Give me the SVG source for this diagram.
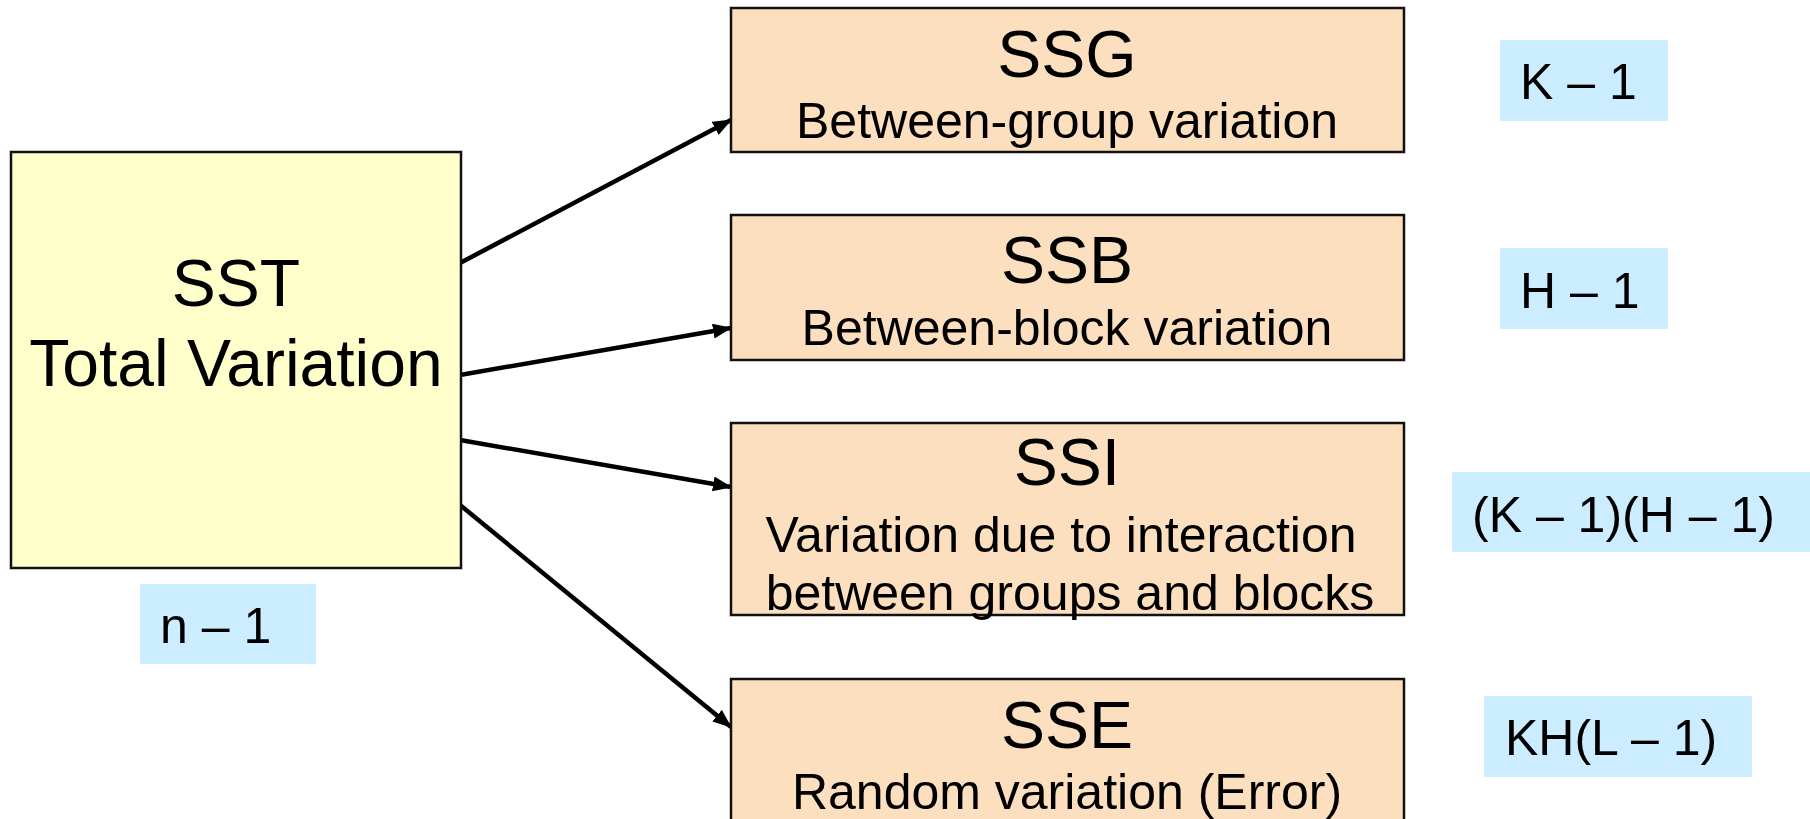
<svg xmlns="http://www.w3.org/2000/svg" width="1810" height="819" viewBox="0 0 1810 819">
<style>
.t{font-family:"Liberation Sans",Arial,sans-serif;fill:#000;}
.title{font-size:66px;text-anchor:middle;}
.sub{font-size:50px;text-anchor:middle;}
.df{font-size:50px;}
.sst{fill:#FFFFCC;stroke:#111;stroke-width:2.5;}
.ss{fill:#FCDFBE;stroke:#111;stroke-width:2.5;}
.lbl{fill:#CCECFF;}
.conn{stroke:#000;stroke-width:4.5;fill:none;marker-end:url(#arr);}
</style>
<defs>
<marker id="arr" markerUnits="userSpaceOnUse" markerWidth="20" markerHeight="16" refX="18" refY="7.5" orient="auto">
<path d="M0,0 L19,7.5 L0,15 Z" fill="#000"/>
</marker>
</defs>
<rect width="1810" height="819" fill="#fff"/>
<g id="connectors">
<line class="conn" x1="460" y1="263" x2="731" y2="120"/>
<line class="conn" x1="460" y1="375" x2="731" y2="328"/>
<line class="conn" x1="460" y1="440" x2="731" y2="487"/>
<line class="conn" x1="460" y1="505" x2="731" y2="727"/>
</g>
<g id="sst">
<rect class="sst" x="11" y="152" width="450" height="416"/>
<text class="t title" x="236" y="306">SST</text>
<text class="t title" x="236" y="386">Total Variation</text>
</g>
<g id="ssg">
<rect class="ss" x="731" y="8" width="673" height="144"/>
<text class="t title" x="1067" y="77">SSG</text>
<text class="t sub" x="1067" y="138">Between-group variation</text>
</g>
<g id="ssb">
<rect class="ss" x="731" y="215" width="673" height="145"/>
<text class="t title" x="1067" y="283">SSB</text>
<text class="t sub" x="1067" y="345">Between-block variation</text>
</g>
<g id="ssi">
<rect class="ss" x="731" y="423" width="673" height="192"/>
<text class="t title" x="1067" y="485">SSI</text>
<text class="t sub" x="1061" y="552">Variation due to interaction</text>
<text class="t sub" x="1070" y="610">between groups and blocks</text>
</g>
<g id="sse">
<rect class="ss" x="731" y="679" width="673" height="160"/>
<text class="t title" x="1067" y="748">SSE</text>
<text class="t sub" x="1067" y="809">Random variation (Error)</text>
</g>
<g id="df-n">
<rect class="lbl" x="140" y="584" width="176" height="80"/>
<text class="t df" x="160" y="643">n – 1</text>
</g>
<g id="df-k">
<rect class="lbl" x="1500" y="40" width="168" height="81"/>
<text class="t df" x="1520" y="99">K – 1</text>
</g>
<g id="df-h">
<rect class="lbl" x="1500" y="248" width="168" height="81"/>
<text class="t df" x="1520" y="308">H – 1</text>
</g>
<g id="df-kh">
<rect class="lbl" x="1452" y="472" width="358" height="80"/>
<text class="t df" x="1472" y="532">(K – 1)(H – 1)</text>
</g>
<g id="df-e">
<rect class="lbl" x="1484" y="696" width="268" height="81"/>
<text class="t df" x="1505" y="755">KH(L – 1)</text>
</g>
</svg>
